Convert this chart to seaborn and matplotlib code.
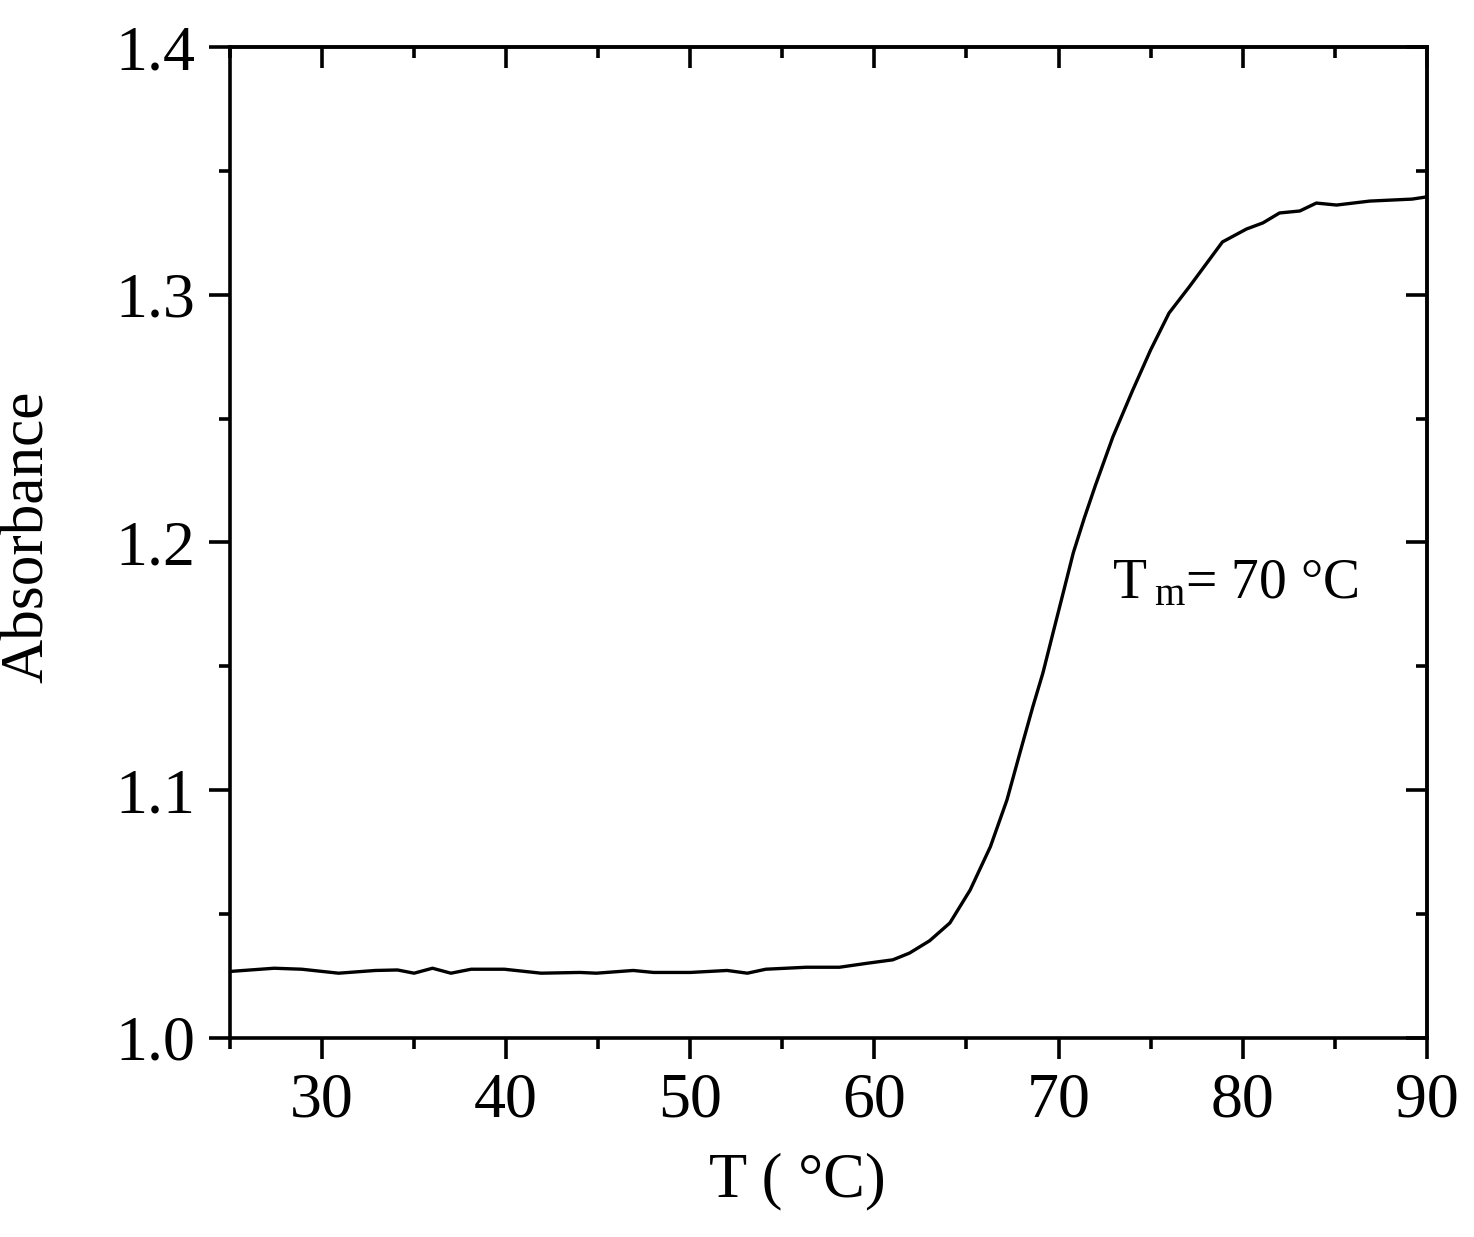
import numpy as np
import matplotlib
matplotlib.use('Agg')
import matplotlib.pyplot as plt
import seaborn as sns
from matplotlib.ticker import MultipleLocator

# 数据：温度 (°C) 与吸光度
temp = [25, 27.4, 28.9, 30.9, 32.9, 34.1, 35.0, 36.0, 37.0, 38.1, 39.9, 41.9,
        44.0, 44.9, 46.9, 48.0, 50.0, 52.0, 53.1, 54.1, 56.3, 58.1, 59.6, 61.0,
        61.9, 63.0, 64.1, 65.2, 66.3, 67.2, 67.9, 68.6, 69.15, 69.7, 70.25, 70.8,
        71.4, 72.0, 72.95, 74.0, 75.0, 76.0, 77.1, 78.9, 80.2, 81.1, 82.0, 83.1,
        84.0, 85.1, 86.9, 89.2, 90.0]
absorbance = [1.0268, 1.0281, 1.0277, 1.0261, 1.0272, 1.0274, 1.0261, 1.0281,
              1.0261, 1.0277, 1.0277, 1.0261, 1.0264, 1.0261, 1.0272, 1.0264,
              1.0264, 1.0272, 1.0261, 1.0277, 1.0285, 1.0285, 1.0301, 1.0315,
              1.0342, 1.0392, 1.0464, 1.0597, 1.0772, 1.0961, 1.1150, 1.1336,
              1.1473, 1.1635, 1.1796, 1.1958, 1.2099, 1.2230, 1.2426, 1.2610,
              1.2777, 1.2926, 1.3032, 1.3213, 1.3265, 1.3290, 1.3330, 1.3338,
              1.3370, 1.3362, 1.3378, 1.3386, 1.3395]

x_major = [30, 40, 50, 60, 70, 80, 90]
y_major = [1.0, 1.1, 1.2, 1.3, 1.4]
y_labels = ['1.0', '1.1', '1.2', '1.3', '1.4']

sns.set_style('ticks')
plt.rcParams['font.family'] = ['Liberation Serif', 'DejaVu Serif']
plt.rcParams['mathtext.fontset'] = 'custom'
plt.rcParams['mathtext.rm'] = 'Liberation Serif'
plt.rcParams['mathtext.it'] = 'Liberation Serif:italic'
plt.rcParams['text.color'] = 'black'
plt.rcParams['axes.labelcolor'] = 'black'
plt.rcParams['xtick.color'] = 'black'
plt.rcParams['ytick.color'] = 'black'

lw = 2.6

fig = plt.figure(figsize=(14.74, 12.37), dpi=100)
ax = fig.add_axes([0.156, 0.161, 0.812, 0.801])

sns.lineplot(x=temp, y=absorbance, color='black', linewidth=2.4, ax=ax)

ax.set_xlim(25, 90)
ax.set_ylim(1.0, 1.4)
ax.set_xticks(x_major)
ax.set_yticks(y_major)
ax.set_yticklabels(y_labels)
ax.xaxis.set_minor_locator(MultipleLocator(5))
ax.yaxis.set_minor_locator(MultipleLocator(0.05))

for s in ax.spines.values():
    s.set_linewidth(lw)
    s.set_color('black')
    s.set_visible(True)

ax.tick_params(which='major', direction='out', length=15, width=lw,
               labelsize=46, pad=10, colors='black')
ax.tick_params(which='minor', direction='out', length=8, width=lw)

# 上、右两侧的内向刻度
top = ax.secondary_xaxis('top')
top.set_xticks(x_major)
top.xaxis.set_minor_locator(MultipleLocator(5))
top.tick_params(which='major', direction='in', length=15, width=lw, labeltop=False)
top.tick_params(which='minor', direction='in', length=8, width=lw)
top.spines['top'].set_linewidth(lw)

right = ax.secondary_yaxis('right')
right.set_yticks(y_major)
right.yaxis.set_minor_locator(MultipleLocator(0.05))
right.tick_params(which='major', direction='in', length=15, width=lw, labelright=False)
right.tick_params(which='minor', direction='in', length=8, width=lw)
right.spines['right'].set_linewidth(lw)

ax.set_xlabel('T ( °C)', fontsize=45)
ax.set_ylabel('Absorbance', fontsize=44)
ax.xaxis.set_label_coords(0.474, -0.116)
ax.yaxis.set_label_coords(-0.146, 0.506)

ax.text(72.9, 1.183, r'T$_{\;\rm m}$= 70 °C', fontsize=40, va='center', ha='left')

fig.savefig('out.png', dpi=100)
